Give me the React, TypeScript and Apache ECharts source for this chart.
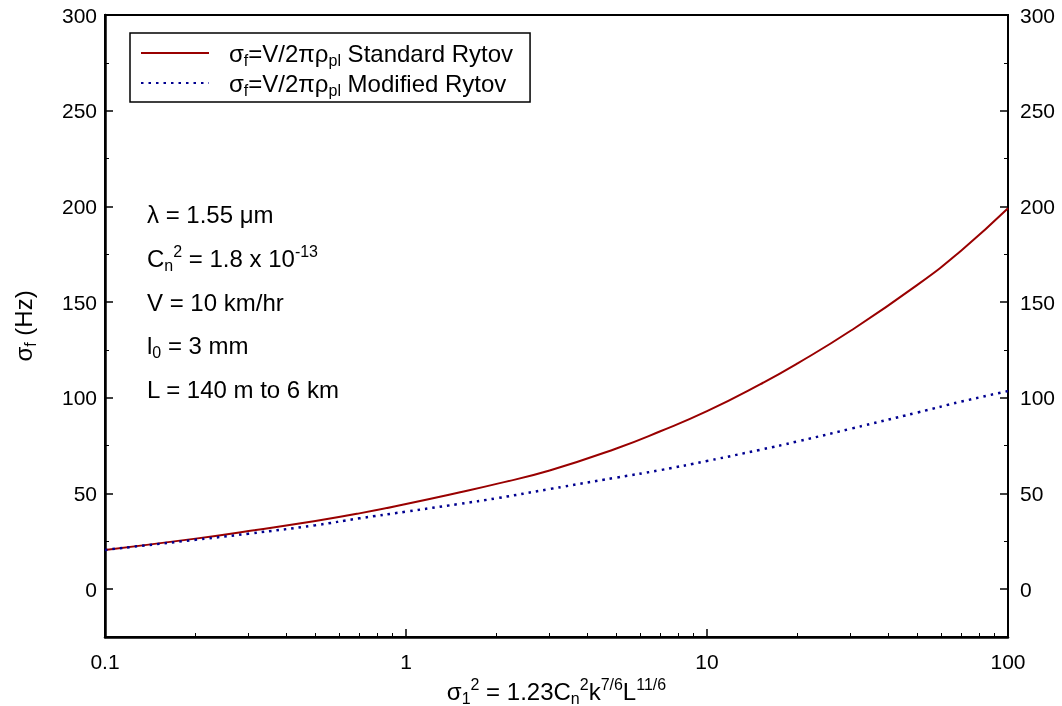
import React, { useEffect, useRef } from "react";
import * as echarts from "echarts";

const xValues = [0.1, 0.2, 0.3, 0.5, 0.7, 1, 1.5, 2, 3, 5, 7, 10, 15, 20, 30, 50, 70, 100];
const standardRytov = [20.5, 26.4, 30.4, 35.6, 39.6, 44.5, 50.5, 55, 62, 73.5, 82.5, 93, 107, 118, 135, 159, 177, 199];
const modifiedRytov = [20.5, 25.8, 29, 33.4, 37, 40.5, 44.5, 47.5, 52.3, 58.3, 62.2, 67, 72.8, 77.2, 83.8, 92.3, 98, 103.5];
const yTickValues = [0, 50, 100, 150, 200, 250, 300];
const yMinorValues = [-25, 25, 75, 125, 175, 225, 275];
const xTickValues = [0.1, 1, 10, 100];
const xMinorValues = [0.2, 0.3, 0.4, 0.5, 0.6, 0.7, 0.8, 0.9, 2, 3, 4, 5, 6, 7, 8, 9, 20, 30, 40, 50, 60, 70, 80, 90];
const annotations = [
  "{n|λ = 1.55 μm}",
  "{n|C}{sub|n}{sup|2}{n| = 1.8 x 10}{sup|-13}",
  "{n|V = 10 km/hr}",
  "{n|l}{sub|0}{n| = 3 mm}",
  "{n|L = 140 m to 6 km}",
];
const annotationY = [214, 258, 302, 345, 389];

const FONT = 'Arial, "Liberation Sans", sans-serif';

const rich = (size: number) => ({
  n: { fontSize: size, lineHeight: 30, fontFamily: FONT, color: "#000" },
  sub: { fontSize: Math.round(size * 0.68), lineHeight: 12, verticalAlign: "bottom", fontFamily: FONT, color: "#000" },
  sup: { fontSize: Math.round(size * 0.68), lineHeight: 14, verticalAlign: "top", fontFamily: FONT, color: "#000" },
});

export default function App() {
  const ref = useRef<HTMLDivElement>(null);
  useEffect(() => {
    const chart = echarts.init(ref.current!, null, { renderer: "svg" });
    const yMain = (pos: "left" | "right") => ({
      type: "value",
      position: pos,
      min: -25,
      max: 300,
      interval: 25,
      splitLine: { show: false },
      axisLine: { show: true, onZero: false, lineStyle: { color: "#000", width: pos === "left" ? 2.5 : 2 } },
      axisTick: { show: true, inside: true, length: 8, lineStyle: { color: "#000", width: 1.5 }, customValues: yTickValues },
      axisLabel: { show: true, customValues: yTickValues, fontSize: 21, fontFamily: FONT, color: "#000", margin: pos === "left" ? 8 : 12 },
    });
    const yMinor = (pos: "left" | "right") => ({
      type: "value",
      position: pos,
      min: -25,
      max: 300,
      interval: 25,
      splitLine: { show: false },
      axisLine: { show: false, onZero: false },
      axisTick: { show: true, inside: true, length: 4, lineStyle: { color: "#000", width: 1 }, customValues: yMinorValues },
      axisLabel: { show: false },
    });
    const legendFmt = (name: string) =>
      "{n|σ}{sub|f}{n|=V/2πρ}{sub|pl}{n| " + name + "}";
    chart.setOption({
      animation: false,
      grid: {
        left: 105, right: 54, top: 15, bottom: 69,
        outerBoundsMode: "none",
        containLabel: false,
        show: true, borderColor: "#000", borderWidth: 2, backgroundColor: "transparent",
      },
      legend: {
        show: true,
        left: 130,
        top: 33,
        orient: "vertical",
        borderColor: "#000",
        borderWidth: 1.5,
        padding: [8, 17, 4, 10],
        itemGap: 3,
        itemWidth: 68,
        itemHeight: 14,
        itemStyle: { opacity: 0 },
        textStyle: { rich: rich(24), padding: [0, 0, 0, 15] },
        formatter: (name: string) => legendFmt(name),
        data: ["Standard Rytov", "Modified Rytov"],
      },
      xAxis: [
        {
          type: "log",
          logBase: 10,
          min: 0.1,
          max: 100,
          position: "bottom",
          splitLine: { show: false },
          axisLine: { show: true, onZero: false, lineStyle: { color: "#000", width: 2.5 } },
          axisTick: { show: true, inside: true, length: 8, lineStyle: { color: "#000", width: 1.5 }, customValues: xTickValues },
          axisLabel: { show: true, customValues: xTickValues, fontSize: 21, fontFamily: FONT, color: "#000", margin: 14, formatter: (v: number) => String(v) },
          name: "{n|σ}{sub|1}{sup|2}{n| = 1.23C}{sub|n}{sup|2}{n|k}{sup|7/6}{n|L}{sup|11/6}",
          nameLocation: "middle",
          nameGap: 39,
          nameTextStyle: { rich: rich(24) },
        },
        {
          type: "log",
          logBase: 10,
          min: 0.1,
          max: 100,
          position: "bottom",
          splitLine: { show: false },
          axisLine: { show: false, onZero: false },
          axisTick: { show: true, inside: true, length: 4, lineStyle: { color: "#000", width: 1 }, customValues: xMinorValues },
          axisLabel: { show: false },
        },
      ],
      yAxis: [
        {
          ...yMain("left"),
          name: "{n|σ}{sub|f}{n| (Hz)}",
          nameLocation: "middle",
          nameGap: 67,
          nameRotate: 90,
          nameTextStyle: { rich: rich(24) },
        },
        yMinor("left"),
        yMain("right"),
        yMinor("right"),
      ],
      series: [
        {
          name: "Standard Rytov",
          type: "line",
          smooth: 0.5,
          symbol: "none",
          data: xValues.map((x, i) => [x, standardRytov[i]]),
          lineStyle: { color: "#990000", width: 2 },
          itemStyle: { color: "#990000" },
        },
        {
          name: "Modified Rytov",
          type: "line",
          smooth: 0.5,
          symbol: "none",
          data: xValues.map((x, i) => [x, modifiedRytov[i]]),
          lineStyle: { color: "#000090", width: 2.5, type: [2.5, 5] },
          itemStyle: { color: "#000090" },
        },
      ],
      graphic: annotations.map((t, i) => ({
        type: "text",
        x: 147,
        y: annotationY[i],
        style: { text: t, rich: rich(24), verticalAlign: "middle", align: "left" },
      })),
    });
    return () => chart.dispose();
  }, []);
  return <div ref={ref} style={{ position: "fixed", left: 0, top: 0, width: 1062, height: 706 }} />;
}
